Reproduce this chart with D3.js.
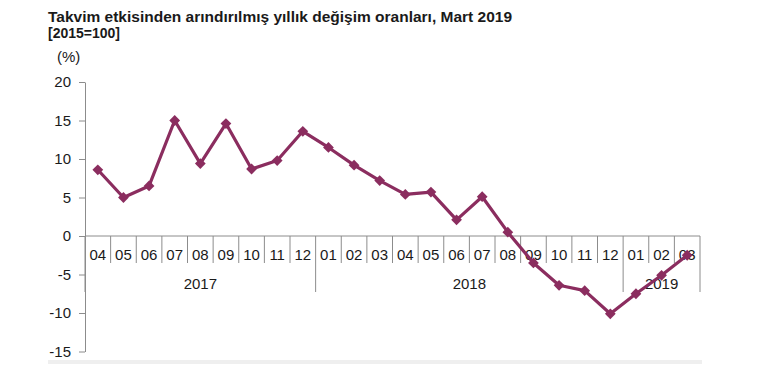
<!DOCTYPE html>
<html><head><meta charset="utf-8">
<script src="https://cdn.jsdelivr.net/npm/d3@7"></script>
<style>body{margin:0;background:#fff}svg{display:block;font-family:"Liberation Sans",Arial,sans-serif}</style>
</head><body><svg id="c" width="768" height="378"></svg>
<script>
const months = ["04","05","06","07","08","09","10","11","12","01","02","03","04","05","06","07","08","09","10","11","12","01","02","03"];
const years = [{label:"2017", start:0, end:9},{label:"2018", start:9, end:21},{label:"2019", start:21, end:24}];
const values = [8.6,5.0,6.5,15.0,9.4,14.6,8.7,9.8,13.6,11.5,9.2,7.2,5.4,5.7,2.1,5.1,0.5,-3.5,-6.4,-7.1,-10.1,-7.5,-5.1,-2.5];
const yTicks = [-15,-10,-5,0,5,10,15,20];
const title = "Takvim etkisinden arındırılmış yıllık değişim oranları, Mart 2019";
const subtitle = "[2015=100]";
const unit = "(%)";

const svg = d3.select("#c");
const axisColor = "#8c8c8c", lineColor = "#8B2D5F", textColor = "#1a1a1a";

svg.append("rect").attr("x",48).attr("y",360).attr("width",654).attr("height",4).attr("fill","#efefef");

svg.append("text").attr("x",48).attr("y",22).attr("font-size",15.5).attr("font-weight","bold").attr("fill",textColor).text(title);
svg.append("text").attr("x",48).attr("y",38).attr("font-size",14).attr("font-weight","bold").attr("fill",textColor).text(subtitle);
svg.append("text").attr("x",57).attr("y",62).attr("font-size",15).attr("fill",textColor).text(unit);

const idx = d3.range(months.length);
const x = d3.scaleBand().domain(idx).range([85,700]).padding(0);
const y = d3.scaleLinear().domain([-15,20]).range([351.5,82]);

const yAxis = svg.append("g").attr("transform","translate(85,0)")
  .call(d3.axisLeft(y).tickValues(yTicks).tickFormat(d=>String(d)).tickSize(6).tickPadding(8).tickSizeOuter(0));
yAxis.select(".domain").attr("stroke",axisColor);
yAxis.selectAll(".tick line").attr("stroke",axisColor);
yAxis.selectAll(".tick text").attr("font-size",15).attr("fill",textColor).attr("font-family","Liberation Sans, Arial, sans-serif");

const y0 = y(0);
svg.append("line").attr("x1",85).attr("x2",700).attr("y1",y0).attr("y2",y0).attr("stroke",axisColor);

const bounds = d3.range(months.length+1);
const yearBounds = new Set([0, ...years.map(d=>d.end)]);
svg.append("g").selectAll("line").data(bounds).join("line")
  .attr("x1",i=> i<months.length ? x(i) : x.range()[1])
  .attr("x2",i=> i<months.length ? x(i) : x.range()[1])
  .attr("y1",y0)
  .attr("y2",i=> yearBounds.has(i) ? y0+56 : y0+27)
  .attr("stroke",axisColor);

svg.append("g").selectAll("text").data(idx).join("text")
  .attr("x",i=>x(i)+x.bandwidth()/2).attr("y",y0+24)
  .attr("text-anchor","middle").attr("font-size",15).attr("fill",textColor)
  .text(i=>months[i]);

svg.append("g").selectAll("text").data(years).join("text")
  .attr("x",d=> (x(d.start) + (d.end<months.length ? x(d.end) : x.range()[1]))/2)
  .attr("y",y0+53).attr("text-anchor","middle").attr("font-size",15).attr("fill",textColor)
  .text(d=>d.label);

const line = d3.line().x(i=>x(i)+x.bandwidth()/2).y(i=>y(values[i]));
svg.append("path").datum(idx).attr("d",line).attr("fill","none").attr("stroke",lineColor).attr("stroke-width",3.2).attr("stroke-linejoin","round");

const sym = d3.symbol().type(d3.symbolSquare).size(58);
svg.append("g").selectAll("path").data(idx).join("path")
  .attr("d",sym)
  .attr("transform",i=>`translate(${x(i)+x.bandwidth()/2},${y(values[i])}) rotate(45)`)
  .attr("fill",lineColor);
</script></body></html>
